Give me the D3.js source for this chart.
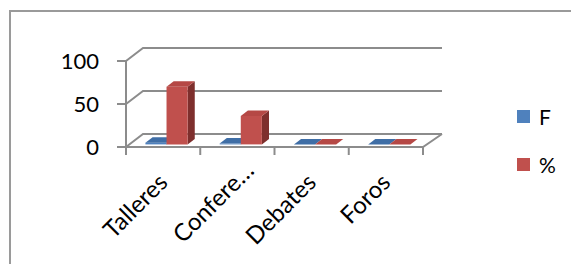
<!DOCTYPE html>
<html>
<head>
<meta charset="utf-8">
<script src="https://cdn.jsdelivr.net/npm/d3@7"></script>
<style>
    body { margin: 0; background: #fff; }
    svg { display: block; }
</style>
</head>
<body>
<svg id="drawing_region"></svg>
<script>
const categories = ['Talleres', 'Confere…', 'Debates', 'Foros'];
const series = ['F', '%'];
const valuesF = [2, 1, 0, 0];
const valuesPct = [67, 33, 0, 0];
const yTicks = [0, 50, 100];

const colors = {
    'F': { front: '#4F81BD', top: '#3f6ea6', side: '#2f5480' },
    '%': { front: '#C0504D', top: '#b54845', side: '#7e2f2d' }
};

var config = {
    parent: '#drawing_region',
    width: 571,
    height: 264,
    left: 126, right: 423, floor: 147, top: 61,
    depth: { dx: 17, dy: -13 },
    barDepth: [0.2, 0.62],
};

class Bar3D {
    constructor(config) {
        this.config = config;
        this.init();
    }

    init() {
        let self = this;
        self.svg = d3.select(self.config.parent)
            .attr('width', self.config.width)
            .attr('height', self.config.height);

        self.x0 = d3.scaleBand()
            .domain(categories)
            .range([self.config.left, self.config.right])
            .padding(0);

        self.x1 = d3.scaleBand()
            .domain(series)
            .range([0, self.x0.bandwidth()])
            .paddingInner(0)
            .paddingOuter(0.76);

        self.yscale = d3.scaleLinear()
            .domain([0, 100])
            .range([self.config.floor, self.config.top]);
    }

    // project a point (x on front plane, value, depth fraction)
    p(x, v, f) {
        const d = this.config.depth;
        return [x + f * d.dx, this.yscale(v) + f * d.dy];
    }

    render() {
        let self = this;
        const d = self.config.depth;
        const grey = '#8c8c8c';
        const backRight = self.config.right + d.dx + 2;

        // outer frame
        self.svg.append('rect')
            .attr('x', 10).attr('y', 11)
            .attr('width', 600).attr('height', 300)
            .attr('fill', 'none')
            .attr('stroke', '#9a9a9a')
            .attr('stroke-width', 2);

        // back wall gridlines with the diagonal on the side wall
        self.svg.append('g').selectAll('path')
            .data(yTicks)
            .join('path')
            .attr('d', v => {
                const y = self.yscale(v);
                return `M${self.config.left},${y}L${self.config.left + d.dx},${y + d.dy}L${backRight},${y + d.dy}`;
            })
            .attr('fill', 'none')
            .attr('stroke', grey)
            .attr('stroke-width', 2);

        // floor front edge and right diagonal
        const fy = self.yscale(0);
        self.svg.append('path')
            .attr('d', `M${self.config.left},${fy}L${self.config.right},${fy}L${backRight},${fy + d.dy}`)
            .attr('fill', 'none')
            .attr('stroke', grey)
            .attr('stroke-width', 2);

        // y axis
        self.svg.append('line')
            .attr('x1', self.config.left).attr('x2', self.config.left)
            .attr('y1', self.yscale(0)).attr('y2', self.yscale(100))
            .attr('stroke', grey).attr('stroke-width', 2);

        const yt = self.svg.append('g').selectAll('g')
            .data(yTicks)
            .join('g')
            .attr('transform', v => `translate(0,${self.yscale(v)})`);
        yt.append('line')
            .attr('x1', self.config.left - 9).attr('x2', self.config.left)
            .attr('stroke', grey).attr('stroke-width', 2);
        yt.append('text')
            .attr('x', 99)
            .attr('dy', '0.36em')
            .attr('text-anchor', 'end')
            .attr('font-family', 'Lato, sans-serif')
            .attr('font-size', 22)
            .attr('fill', '#000')
            .text(v => v);

        // x ticks on category boundaries
        const bounds = categories.map(c => self.x0(c)).concat([self.config.right]);
        self.svg.append('g').selectAll('line')
            .data(bounds)
            .join('line')
            .attr('x1', b => b).attr('x2', b => b)
            .attr('y1', fy).attr('y2', fy + 8)
            .attr('stroke', grey).attr('stroke-width', 2);

        // category labels (truncated ones sit a bit further along the slope)
        self.svg.append('g').selectAll('text')
            .data(categories)
            .join('text')
            .attr('transform', c => {
                const k = c.endsWith('…') ? 12 : 0;
                return `translate(${self.x0(c) + self.x0.bandwidth() / 2 + 6 + k},${fy + 37 - k}) rotate(-45)`;
            })
            .attr('text-anchor', 'end')
            .attr('font-family', 'Lato, sans-serif')
            .attr('font-size', 24)
            .attr('fill', '#000')
            .text(c => c);

        // bars
        const bars = [];
        categories.forEach((c, i) => {
            bars.push({ c: c, s: 'F', v: valuesF[i] });
            bars.push({ c: c, s: '%', v: valuesPct[i] });
        });

        const [f0, f1] = self.config.barDepth;
        const g = self.svg.append('g').selectAll('g')
            .data(bars)
            .join('g');

        const poly = pts => 'M' + pts.map(q => q.join(',')).join('L') + 'Z';

        g.each(function(b) {
            const xl = self.x0(b.c) + self.x1(b.s);
            const xr = xl + self.x1.bandwidth();
            const sel = d3.select(this);
            // side
            sel.append('path')
                .attr('d', poly([self.p(xr, 0, f0), self.p(xr, b.v, f0), self.p(xr, b.v, f1), self.p(xr, 0, f1)]))
                .attr('fill', colors[b.s].side);
            // front
            sel.append('path')
                .attr('d', poly([self.p(xl, 0, f0), self.p(xr, 0, f0), self.p(xr, b.v, f0), self.p(xl, b.v, f0)]))
                .attr('fill', colors[b.s].front);
            // top
            sel.append('path')
                .attr('d', poly([self.p(xl, b.v, f0), self.p(xr, b.v, f0), self.p(xr, b.v, f1), self.p(xl, b.v, f1)]))
                .attr('fill', colors[b.s].top);
        });

        // legend
        const lg = self.svg.append('g').selectAll('g')
            .data(series)
            .join('g')
            .attr('transform', (s, i) => `translate(517,${117 + i * 48})`);
        lg.append('rect')
            .attr('x', 0).attr('y', -7)
            .attr('width', 13).attr('height', 13)
            .attr('fill', s => colors[s].front);
        lg.append('text')
            .attr('x', 22)
            .attr('dy', '0.36em')
            .attr('font-family', 'Lato, sans-serif')
            .attr('font-size', 21)
            .attr('fill', '#000')
            .text(s => s);
    }
}

let chart = new Bar3D(config);
chart.render();
</script>
</body>
</html>
